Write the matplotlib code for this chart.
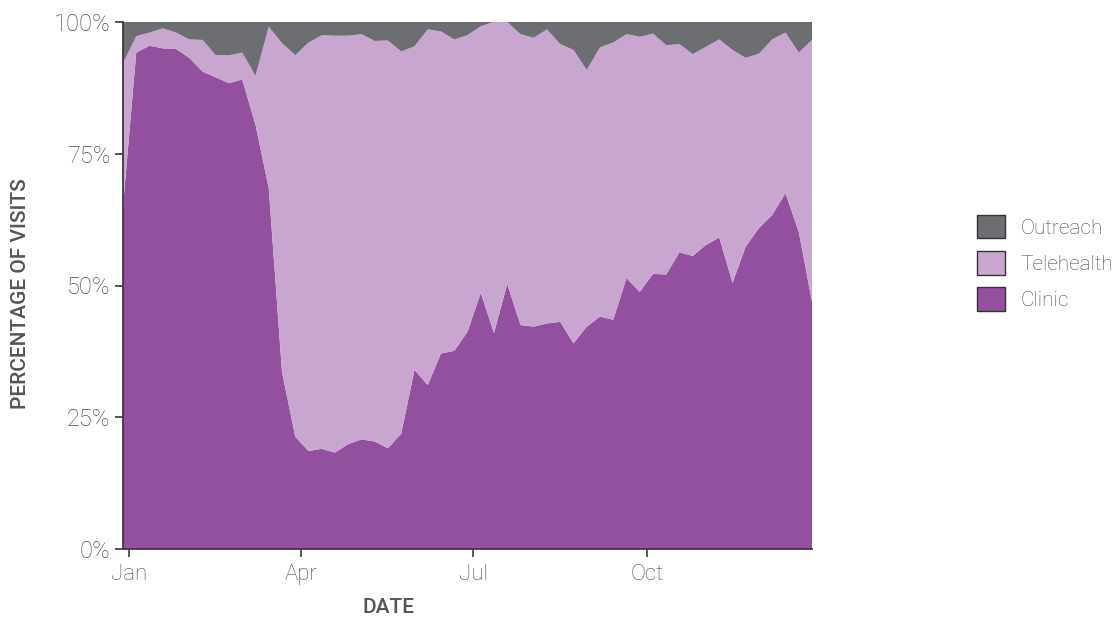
import numpy as np
import pandas as pd
import matplotlib
matplotlib.use("Agg")
import matplotlib.pyplot as plt
from matplotlib.patches import Patch

# weekly share of visits (%), week starting Sundays
week_start = "2019-12-29"
n_weeks = 53

clinic = [65.0, 94.2, 95.5, 95.0, 94.9, 93.2, 90.6, 89.5, 88.4, 89.1,
          80.5, 68.5, 33.6, 21.3, 18.6, 19.0, 18.3, 19.9, 20.8, 20.4,
          19.1, 21.9, 34.0, 31.1, 37.1, 37.6, 41.2, 48.6, 41.0, 50.3,
          42.5, 42.2, 42.8, 43.1, 39.0, 42.2, 44.1, 43.5, 51.4, 48.8,
          52.2, 52.1, 56.3, 55.6, 57.7, 59.1, 50.5, 57.4, 60.9, 63.4,
          67.5, 60.2, 46.9]
telehealth = [27.2, 3.1, 2.5, 3.8, 3.1, 3.5, 6.0, 4.2, 5.3, 5.1,
              9.3, 30.6, 62.4, 72.4, 77.5, 78.5, 79.1, 77.5, 76.9, 76.0,
              77.4, 72.5, 61.4, 67.5, 61.1, 59.1, 56.3, 50.6, 59.0, 49.7,
              55.2, 54.8, 55.8, 52.7, 55.7, 48.7, 51.1, 52.6, 46.3, 48.4,
              45.6, 43.5, 39.5, 38.3, 37.6, 37.6, 44.2, 35.8, 33.1, 33.3,
              30.5, 34.0, 49.7]
outreach = [7.8, 2.7, 2.0, 1.2, 2.0, 3.3, 3.4, 6.3, 6.3, 5.8,
            10.2, 0.9, 4.0, 6.3, 3.9, 2.5, 2.6, 2.6, 2.3, 3.6,
            3.5, 5.6, 4.6, 1.4, 1.8, 3.3, 2.5, 0.8, 0.0, 0.0,
            2.3, 3.0, 1.4, 4.2, 5.3, 9.1, 4.8, 3.9, 2.3, 2.8,
            2.2, 4.4, 4.2, 6.1, 4.7, 3.3, 5.3, 6.8, 6.0, 3.3,
            2.0, 5.8, 3.4]

series_names = ["Clinic", "Telehealth", "Outreach"]
colors = ["#93509f", "#c9a6cf", "#6d6e71"]
x_ticks = ["2020-01-01", "2020-04-01", "2020-07-01", "2020-10-01"]
x_ticklabels = ["Jan", "Apr", "Jul", "Oct"]
y_ticks = [0, 25, 50, 75, 100]

plt.rcParams["font.family"] = ["Roboto", "DejaVu Sans"]
text_grey = "#4a4a4a"
label_grey = "#555555"
axis_grey = "#3a3a3a"

dates = pd.date_range(week_start, periods=n_weeks, freq="7D")

fig = plt.figure(figsize=(11.14, 6.2), dpi=100)
ax = fig.add_axes([123 / 1114, 1 - 549 / 620, (812 - 123) / 1114, (549 - 22) / 620])

ax.stackplot(dates, clinic, telehealth, outreach, colors=colors, linewidth=0)

ax.set_xlim(dates[0], dates[-1])
ax.set_ylim(0, 100)
ax.set_xticks([pd.Timestamp(d) for d in x_ticks])
ax.set_xticklabels(x_ticklabels)
ax.set_yticks(y_ticks)
ax.set_yticklabels([f"{v}%" for v in y_ticks])

for s in ["top", "right"]:
    ax.spines[s].set_visible(False)
for s in ["left", "bottom"]:
    ax.spines[s].set_color(axis_grey)
    ax.spines[s].set_linewidth(1.3)
ax.tick_params(axis="both", direction="out", length=6, width=1.2, color=axis_grey,
               labelcolor=text_grey, pad=3)
ax.tick_params(axis="x", labelsize=16, pad=5)
ax.tick_params(axis="y", labelsize=17)
for lab in ax.get_xticklabels() + ax.get_yticklabels():
    lab.set_fontweight("light")

ax.set_xlabel("DATE", fontsize=15, color=label_grey, fontweight="medium")
ax.set_ylabel("PERCENTAGE OF VISITS", fontsize=15, color=label_grey, fontweight="medium")
ax.xaxis.set_label_coords(0.385, -0.093)
ax.yaxis.set_label_coords(-0.135, 0.484)

handles = [Patch(facecolor=c, edgecolor="#333333", linewidth=1.0, label=n)
           for n, c in zip(series_names, colors)][::-1]
leg = fig.legend(handles=handles, loc="center left", bbox_to_anchor=(0.86, 0.576),
                 frameon=False, fontsize=15, labelcolor=text_grey,
                 handlelength=1.35, handleheight=1.35, handletextpad=0.75, labelspacing=0.62)
for t in leg.get_texts():
    t.set_fontweight("light")

fig.savefig("out.png", dpi=100)
